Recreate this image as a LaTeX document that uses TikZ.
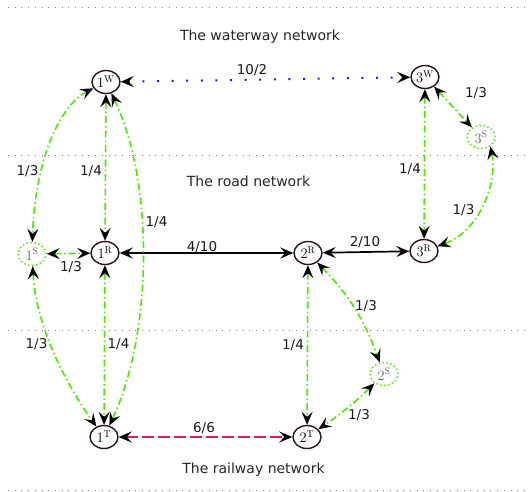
\documentclass[tikz,border=0pt]{standalone}
\usepackage{fontspec}
\newfontfamily\lblfont{DejaVu Sans}
\usetikzlibrary{arrows.meta,shapes.geometric}
\definecolor{eg}{RGB}{75,235,0}
\definecolor{eb}{RGB}{25,25,240}
\definecolor{er}{RGB}{235,20,80}
\definecolor{bd}{RGB}{40,20,20}
\begin{document}
\begin{tikzpicture}[x=1pt,y=1pt,
 >={Stealth[length=13pt,width=11pt,inset=5pt,color=black]},
 mainnode/.style={ellipse,draw=bd,line width=1.4pt,minimum width=28pt,minimum height=23pt,inner sep=0.5pt,font=\fontsize{14}{16}\selectfont},
 subnode/.style={ellipse,draw=eg,line width=1.4pt,dash pattern=on 1.5pt off 2.5pt,minimum width=28pt,minimum height=23pt,inner sep=0.5pt,text=black!60,font=\fontsize{14}{16}\selectfont},
 lbl/.style={anchor=base,font=\lblfont\fontsize{13.5}{15}\selectfont,text=black!90,inner sep=0pt},
 ttl/.style={anchor=base,font=\lblfont\fontsize{14}{16}\selectfont,text=black!85,inner sep=0pt},
 transfer/.style={<->,eg,line width=1.6pt,dash pattern=on 7pt off 3pt on 1.5pt off 3pt},
 water/.style={<->,eb,line width=2pt,dash pattern=on 2pt off 12.6pt},
 road/.style={<->,black,line width=1.7pt},
 rail/.style={<->,er,line width=2.2pt,dash pattern=on 12pt off 4pt},
 sep/.style={gray,line width=0.8pt,dash pattern=on 1pt off 5.7pt}]
\useasboundingbox (0,0) rectangle (530,-491);
% separators
\draw[sep] (8,-7) -- (530,-7);
\draw[sep] (8,-155) -- (530,-155);
\draw[sep] (8,-330) -- (530,-330);
\draw[sep] (8,-490) -- (530,-490);
% titles
\node[ttl] (tw) at (260,-40) {The waterway network};
\node[ttl] (tr) at (248.5,-186.7) {The road network};
\node[ttl] (tt) at (253.5,-473.3) {The railway network};
% nodes
\node[mainnode] (w1) at (106,-82) {$1^{\mathrm{W}}$};
\node[mainnode] (w3) at (425,-77) {$3^{\mathrm{W}}$};
\node[subnode] (s3) at (481,-137) {$3^{\mathrm{S}}$};
\node[subnode] (s1) at (32,-254) {$1^{\mathrm{S}}$};
\node[mainnode] (r1) at (105,-253) {$1^{\mathrm{R}}$};
\node[mainnode] (r2) at (308,-253) {$2^{\mathrm{R}}$};
\node[mainnode] (r3) at (424,-251) {$3^{\mathrm{R}}$};
\node[subnode] (s2) at (384,-374) {$2^{\mathrm{S}}$};
\node[mainnode] (t1) at (104,-437) {$1^{\mathrm{T}}$};
\node[mainnode] (t2) at (307,-437) {$2^{\mathrm{T}}$};
% edges
\draw[water] (w1) -- (w3);
\draw[road] (r1) -- (r2);
\draw[road] (r2) -- (r3);
\draw[rail] (t1) -- (t2);
\draw[transfer] (w1) .. controls (60,-105) and (35,-160) .. (s1);
\draw[transfer] (w1) -- (r1);
\draw[transfer] (w1) .. controls (155,-185) and (152,-335) .. (t1);
\draw[transfer] (s1) -- (r1);
\draw[transfer] (s1) .. controls (36,-330) and (70,-390) .. (t1);
\draw[transfer] (r1) -- (t1);
\draw[transfer] (w3) -- (s3);
\draw[transfer] (w3) -- (r3);
\draw[transfer] (s3.-45) .. controls (498,-185) and (478,-232) .. (r3);
\draw[transfer] (r2) to[bend left=12] (s2);
\draw[transfer] (r2) -- (t2);
\draw[transfer] (s2) to[bend left=5] (t2);
% labels
\node[lbl] (l1) at (252,-74) {10/2};
\node[lbl] (l2) at (476,-97) {1/3};
\node[lbl] (l3) at (27.5,-175.3) {1/3};
\node[lbl] (l4) at (91,-175.3) {1/4};
\node[lbl] (l5) at (156.5,-226) {1/4};
\node[lbl] (l6) at (410,-173.3) {1/4};
\node[lbl] (l7) at (463.5,-214) {1/3};
\node[lbl] (l8) at (202,-251.7) {4/10};
\node[lbl] (l9) at (365,-246.7) {2/10};
\node[lbl] (l10) at (71,-271.7) {1/3};
\node[lbl] (l11) at (366,-310.7) {1/3};
\node[lbl] (l12) at (36.5,-348.3) {1/3};
\node[lbl] (l13) at (118.5,-348.3) {1/4};
\node[lbl] (l14) at (293,-349.3) {1/4};
\node[lbl] (l15) at (359,-419.3) {1/3};
\node[lbl] (l16) at (204,-432.7) {6/6};
\end{tikzpicture}
\end{document}
